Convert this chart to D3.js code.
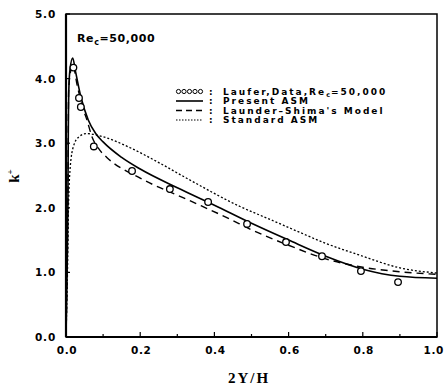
<!DOCTYPE html>
<html>
<head>
<meta charset="utf-8">
<script src="https://cdn.jsdelivr.net/npm/d3@7"></script>
<style>
  html, body { margin: 0; padding: 0; background: #fff; }
</style>
</head>
<body>
<div id="chart"></div>
<script>
// Laufer data (circles)
const dataX = [0.02, 0.035, 0.04, 0.075, 0.178, 0.28, 0.383, 0.488, 0.593, 0.69, 0.795, 0.895];
const dataY = [4.17, 3.70, 3.56, 2.95, 2.57, 2.29, 2.09, 1.75, 1.47, 1.25, 1.02, 0.85];

// Present ASM (solid)
const asmX = [0, 0.003, 0.005, 0.006, 0.008, 0.011, 0.018, 0.026, 0.04, 0.06, 0.08, 0.1, 0.15, 0.2, 0.3, 0.4, 0.5, 0.6, 0.7, 0.8, 0.9, 1.0];
const asmY = [0, 1.0, 2.0, 3.0, 3.9, 4.15, 4.32, 4.1, 3.72, 3.36, 3.15, 3.02, 2.78, 2.6, 2.31, 2.04, 1.76, 1.5, 1.25, 1.05, 0.94, 0.91];

// Launder-Shima's model (dashed)
const lsX = [0, 0.003, 0.005, 0.007, 0.012, 0.018, 0.03, 0.045, 0.057, 0.07, 0.09, 0.11, 0.2, 0.33, 0.44, 0.5, 0.6, 0.7, 0.8, 0.9, 1.0];
const lsY = [0, 1.0, 2.0, 3.8, 4.1, 4.22, 3.9, 3.55, 3.35, 3.1, 2.9, 2.78, 2.46, 2.12, 1.83, 1.66, 1.42, 1.21, 1.08, 1.01, 0.97];

// Standard ASM (dotted)
const stdX = [0, 0.002, 0.004, 0.006, 0.011, 0.02, 0.035, 0.055, 0.08, 0.1, 0.173, 0.25, 0.334, 0.469, 0.55, 0.63, 0.7, 0.79, 0.9, 1.0];
const stdY = [0, 0.5, 1.0, 1.8, 2.6, 2.95, 3.1, 3.15, 3.13, 3.1, 2.93, 2.7, 2.43, 2.02, 1.82, 1.62, 1.45, 1.27, 1.07, 0.99];

const xTicks = [0, 0.2, 0.4, 0.6, 0.8, 1.0];
const xMinor = d3.range(0, 1.0001, 0.1);
const yTicks = [0, 1, 2, 3, 4, 5];

const legendLabels = ['Laufer,Data,Re', 'Present ASM', "Launder\u2013Shima's Model", 'Standard ASM'];

const W = 445, H = 385;
const margin = { left: 66, right: 8, top: 14, bottom: 48 };
const TICKFONT = 'DejaVu Sans, sans-serif';

const svg = d3.select('#chart').append('svg').attr('width', W).attr('height', H);

const x = d3.scaleLinear().domain([0, 1]).range([margin.left, W - margin.right]);
const y = d3.scaleLinear().domain([0, 5]).range([H - margin.bottom, margin.top]);

// frame
svg.append('rect')
  .attr('x', x(0)).attr('y', y(5))
  .attr('width', x(1) - x(0)).attr('height', y(0) - y(5))
  .attr('fill', 'none').attr('stroke', '#000').attr('stroke-width', 1.5);
svg.append('line').attr('x1', x(0)).attr('x2', x(1)).attr('y1', y(0)).attr('y2', y(0))
  .attr('stroke', '#000').attr('stroke-width', 2.2);
svg.append('line').attr('x1', x(0)).attr('x2', x(0)).attr('y1', y(0)).attr('y2', y(5))
  .attr('stroke', '#000').attr('stroke-width', 2.2);

// x ticks (inward)
svg.selectAll('line.xminor').data(xMinor).enter().append('line')
  .attr('x1', (d) => x(d)).attr('x2', (d) => x(d))
  .attr('y1', y(0)).attr('y2', (d, i) => y(0) - (i % 2 === 0 ? 5 : 3))
  .attr('stroke', '#000').attr('stroke-width', 1.2);
svg.selectAll('line.yt').data(yTicks).enter().append('line')
  .attr('x1', x(0)).attr('x2', x(0) + 4)
  .attr('y1', (d) => y(d)).attr('y2', (d) => y(d))
  .attr('stroke', '#000').attr('stroke-width', 1.2);

// last label sits flush with the window edge
svg.selectAll('text.xt').data(xTicks).enter().append('text')
  .attr('x', (d) => (d === 1 ? W - 1 : x(d) + 1)).attr('y', y(0) + 17)
  .attr('text-anchor', (d) => (d === 1 ? 'end' : 'middle'))
  .style('font-family', TICKFONT).style('font-weight', 'bold')
  .style('font-size', '10.5px').style('letter-spacing', '0.6px')
  .text((d) => d.toFixed(1));

svg.selectAll('text.yt').data(yTicks).enter().append('text')
  .attr('x', x(0) - 10).attr('y', (d) => y(d) + 4)
  .attr('text-anchor', 'end')
  .style('font-family', TICKFONT).style('font-weight', 'bold')
  .style('font-size', '10.5px').style('letter-spacing', '0.8px')
  .text((d) => d.toFixed(1));

// axis titles
svg.append('text')
  .attr('x', 249).attr('y', 383)
  .attr('text-anchor', 'middle')
  .style('font-family', 'Liberation Serif, serif').style('font-weight', 'bold')
  .style('font-size', '15px').style('letter-spacing', '2px')
  .text('2Y/H');

const kl = svg.append('text')
  .attr('transform', 'translate(19,176) rotate(-90)')
  .attr('text-anchor', 'middle')
  .style('font-family', 'Liberation Serif, serif').style('font-weight', 'bold')
  .style('font-size', '15px');
kl.append('tspan').text('k');
kl.append('tspan').attr('dy', -6).style('font-size', '9px').text('+');

// Re_c annotation
const re = svg.append('text')
  .attr('x', 77).attr('y', 42)
  .style('font-family', TICKFONT).style('font-weight', 'bold')
  .style('font-size', '11px').style('letter-spacing', '0.6px');
re.append('tspan').text('Re');
re.append('tspan').attr('dy', 3).style('font-size', '8px').text('c');
re.append('tspan').attr('dy', -3).text('=50,000');

// curves
const line = d3.line().x((d) => x(d[0])).y((d) => y(d[1])).curve(d3.curveMonotoneX);
const zip = (a, b) => a.map((v, i) => [v, b[i]]);

svg.append('path').datum(zip(stdX, stdY))
  .attr('fill', 'none').attr('stroke', '#000').attr('stroke-width', 1.3)
  .attr('stroke-dasharray', '2,2').attr('d', line);
svg.append('path').datum(zip(lsX, lsY))
  .attr('fill', 'none').attr('stroke', '#000').attr('stroke-width', 1.4)
  .attr('stroke-dasharray', '7,5').attr('d', line);
svg.append('path').datum(zip(asmX, asmY))
  .attr('fill', 'none').attr('stroke', '#000').attr('stroke-width', 1.6)
  .attr('d', line);

svg.selectAll('circle.pt').data(zip(dataX, dataY)).enter().append('circle')
  .attr('cx', (d) => x(d[0])).attr('cy', (d) => y(d[1])).attr('r', 3.3)
  .attr('fill', '#fff').attr('stroke', '#000').attr('stroke-width', 1.3);

// legend
const lgX0 = 176, lgX1 = 203, lgText = 223;
const lgY = [91.5, 101, 110.5, 120];
const lg = svg.append('g')
  .style('font-family', TICKFONT).style('font-weight', 'bold')
  .style('font-size', '9px').style('letter-spacing', '2px');

d3.range(5).forEach((i) => {
  lg.append('circle')
    .attr('cx', lgX0 + 2.5 + i * 5.5).attr('cy', lgY[0])
    .attr('r', 2.1).attr('fill', 'none').attr('stroke', '#000').attr('stroke-width', 1);
});
lg.append('line').attr('x1', lgX0).attr('x2', lgX1).attr('y1', lgY[1]).attr('y2', lgY[1])
  .attr('stroke', '#000').attr('stroke-width', 1.6);
lg.append('line').attr('x1', lgX0).attr('x2', lgX1).attr('y1', lgY[2]).attr('y2', lgY[2])
  .attr('stroke', '#000').attr('stroke-width', 1.3).attr('stroke-dasharray', '6,4');
lg.append('line').attr('x1', lgX0).attr('x2', lgX1).attr('y1', lgY[3]).attr('y2', lgY[3])
  .attr('stroke', '#000').attr('stroke-width', 1.2).attr('stroke-dasharray', '1.5,1.5');

lgY.forEach((yy) => {
  lg.append('text').attr('x', 209).attr('y', yy + 3.3).text(':');
});

const t0 = lg.append('text').attr('x', lgText).attr('y', lgY[0] + 3.3);
t0.append('tspan').text(legendLabels[0]);
t0.append('tspan').attr('dy', 2).style('font-size', '6.5px').style('letter-spacing', '1px').text('c');
t0.append('tspan').attr('dy', -2).text('=50,000');
legendLabels.slice(1).forEach((s, i) => {
  lg.append('text').attr('x', lgText).attr('y', lgY[i + 1] + 3.3).text(s);
});
</script>
</body>
</html>
